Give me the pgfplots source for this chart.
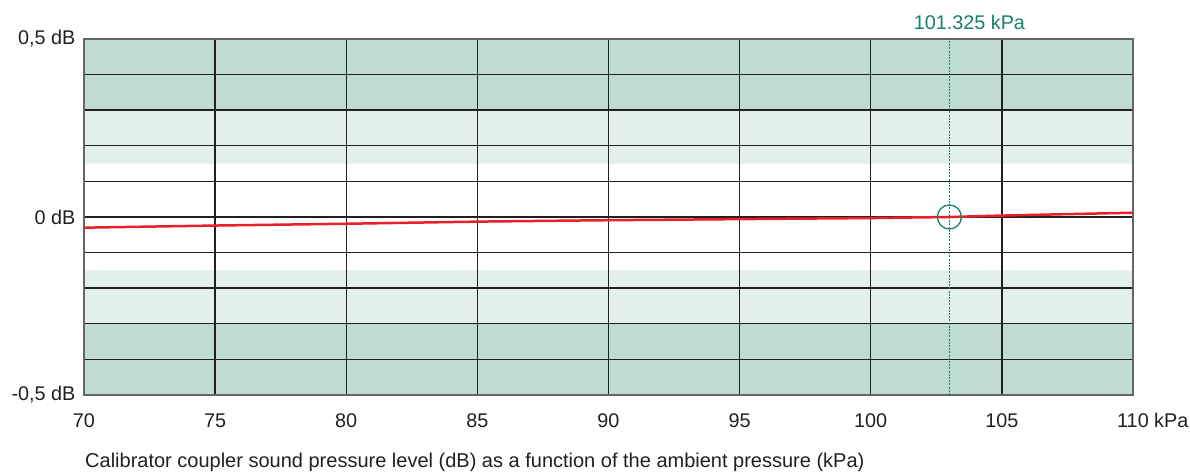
\documentclass[border=0pt]{standalone}
\usepackage{fontspec}
\setmainfont{Liberation Sans}
\usepackage{pgfplots}
\pgfplotsset{compat=1.18}
\definecolor{darkband}{HTML}{BFDBD2}
\definecolor{lightband}{HTML}{E2F0EB}
\definecolor{tealc}{HTML}{17806B}
\definecolor{redline}{HTML}{E8202A}
\definecolor{txt}{HTML}{231F20}
\begin{document}
\begin{tikzpicture}
\begin{axis}[
  at={(84pt,81pt)}, anchor=south west,
  scale only axis, width=1049pt, height=356pt,
  xmin=70, xmax=110, ymin=-0.5, ymax=0.5,
  xtick={70,75,80,85,90,95,100,105,110},
  xticklabels={70,75,80,85,90,95,100,105,{110\rlap{ kPa}}},
  ytick={-0.5,-0.4,-0.3,-0.2,-0.1,0,0.1,0.2,0.3,0.4,0.5},
  yticklabels={{-0,5 dB},{},{},{},{},{0 dB},{},{},{},{},{0,5 dB}},
  grid=major,
  major grid style={draw=txt, line width=1.4pt},
  major tick length=0pt,
  axis line style={draw=black!60, line width=1.2pt},
  tick label style={font=\fontsize{19.8}{22}\selectfont, text=txt},
  xticklabel style={anchor=base, yshift=-33pt},
  yticklabel style={anchor=east, xshift=-5pt},
  set layers,
  clip mode=individual,
]
\addplot[on layer=axis background, draw=none, fill=darkband] coordinates {(70,0.3) (110,0.3) (110,0.5) (70,0.5) (70,0.3)};
\addplot[on layer=axis background, draw=none, fill=lightband] coordinates {(70,0.15) (110,0.15) (110,0.3) (70,0.3) (70,0.15)};
\addplot[on layer=axis background, draw=none, fill=lightband] coordinates {(70,-0.3) (110,-0.3) (110,-0.15) (70,-0.15) (70,-0.3)};
\addplot[on layer=axis background, draw=none, fill=darkband] coordinates {(70,-0.5) (110,-0.5) (110,-0.3) (70,-0.3) (70,-0.5)};
\addplot[draw=tealc, line width=1pt, dash pattern=on 2pt off 1.2pt] coordinates {(103,-0.5) (103,0.5)};
\addplot[draw=redline, line width=2.5pt] coordinates {
(70,-0.030) (75,-0.024) (80,-0.019) (85,-0.013) (90,-0.009) (95,-0.006) (100,-0.003) (103,0.0) (105,0.004) (110,0.012)};
\addplot[only marks, mark=o, mark size=12pt, mark options={draw=tealc, line width=1.3pt}] coordinates {(103,0)};
\node[anchor=base, text=tealc, font=\fontsize{19.8}{22}\selectfont, xshift=20pt, yshift=9pt] at (axis cs:103,0.5) {101.325 kPa};
\node[anchor=base west, inner sep=0pt, text=txt, font=\fontsize{20}{22}\selectfont, xshift=1pt, yshift=-72pt] at (rel axis cs:0,0) {Calibrator coupler sound pressure level (dB) as a function of the ambient pressure (kPa)};
\end{axis}
\pgfresetboundingbox
\path[use as bounding box] (0pt,0pt) rectangle (1190pt,476pt);
\end{tikzpicture}
\end{document}
